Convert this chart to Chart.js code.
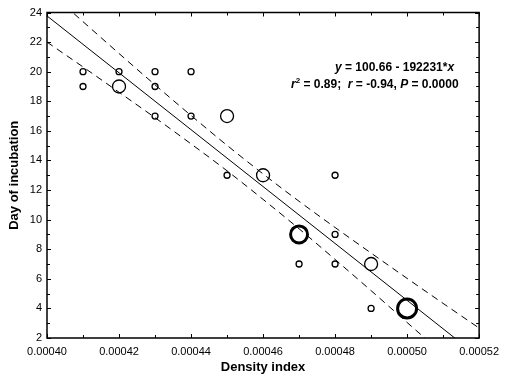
<!DOCTYPE html>
<html>
<head>
<meta charset="utf-8">
<script src="https://cdn.jsdelivr.net/npm/chart.js@4/dist/chart.umd.min.js"></script>
<style>
    body { margin: 0; background: #fff; }
    canvas { display: block; }
</style>
</head>
<body>
<canvas id="myChart" width="506" height="380"></canvas>
<script>
// observations (circle size = number of overlapping nests)
var densityX = [0.00041, 0.00041, 0.00042, 0.00042, 0.00043, 0.00043, 0.00043, 0.00044, 0.00044, 0.00045,
                0.00045, 0.00046, 0.00047, 0.00047, 0.00048, 0.00048, 0.00048, 0.00049, 0.00049, 0.00050],
    incubationDay = [20, 19, 20, 19, 20, 19, 17, 20, 17, 17, 13, 13, 9, 7, 13, 9, 7, 7, 4, 4],
    nestCount = [1, 1, 1, 2, 1, 1, 1, 1, 1, 2, 1, 2, 3, 1, 1, 1, 1, 2, 1, 4];

// fitted line y = 100.66 - 192231*x, end points
var fitX = [0.00040, 0.00052],
    fitY = [23.77, 0.70];

// 95% confidence band
var bandX = [0.00040, 0.00041, 0.00042, 0.00043, 0.00044, 0.00045, 0.00046,
             0.00047, 0.00048, 0.00049, 0.00050, 0.00051, 0.00052],
    bandUpper = [25.54, 23.38, 21.23, 19.11, 17.04, 15.02, 13.09, 11.24, 9.47, 7.74, 6.03, 4.34, 2.67],
    bandLower = [22.00, 20.32, 18.61, 16.89, 15.12, 13.30, 11.37, 9.38, 7.31, 5.20, 3.05, 0.90, -1.27];

var xTicks = [0.00040, 0.00042, 0.00044, 0.00046, 0.00048, 0.00050, 0.00052],
    yTicks = [2, 4, 6, 8, 10, 12, 14, 16, 18, 20, 22, 24];

const FONT = '"Liberation Sans", Arial, sans-serif';
const pts = (xs, ys) => xs.map((x, i) => ({ x: x, y: ys[i] }));
const lastOf = arr => arr[arr.length - 1];
const radiusFor = { 1: 3, 2: 6.5, 3: 8.5, 4: 9.5 },
      borderFor = { 1: 1.3, 2: 1.3, 3: 3, 4: 3 };

// frame + inward ticks on all four sides, and the equation text
const framePlugin = {
    id: 'frame',
    afterDraw(chart) {
        const ctx = chart.ctx, a = chart.chartArea;
        const xs = chart.scales.x, ys = chart.scales.y;
        ctx.save();
        try {
            ctx.setLineDash([]);
            ctx.globalAlpha = 1;
            ctx.globalCompositeOperation = 'source-over';
            ctx.strokeStyle = '#000';
            ctx.lineWidth = 1.5;
            ctx.beginPath();
            ctx.rect(a.left, a.top, a.right - a.left, a.bottom - a.top);
            ctx.stroke();

            ctx.lineWidth = 1;
            ctx.beginPath();
            for (let k = 0; k <= 12; k++) {
                let v = xTicks[0] + k * 0.00001;
                let px = Math.round(xs.getPixelForValue(v)) + 0.5;
                let len = (k % 2 == 0) ? 4 : 3;
                ctx.moveTo(px, a.bottom); ctx.lineTo(px, a.bottom - len);
                ctx.moveTo(px, a.top); ctx.lineTo(px, a.top + len);
            }
            for (let v = yTicks[0]; v <= lastOf(yTicks); v++) {
                let py = Math.round(ys.getPixelForValue(v)) + 0.5;
                let len = (v % 2 == 0) ? 4 : 3;
                ctx.moveTo(a.left, py); ctx.lineTo(a.left + len, py);
                ctx.moveTo(a.right, py); ctx.lineTo(a.right - len, py);
            }
            ctx.stroke();
        } catch (e) {
            ctx.fillStyle = 'red';
            ctx.fillText(String(e), 60, 300);
        }

        // equation
        const B = 'bold 12px ' + FONT, BI = 'italic bold 12px ' + FONT, SUP = 'bold 8px ' + FONT;
        function runs(x, y, parts) {
            parts.forEach(p => {
                ctx.font = p[1];
                let dy = p[2] || 0;
                ctx.fillText(p[0], x, y + dy);
                x += ctx.measureText(p[0]).width;
            });
        }
        ctx.fillStyle = '#000';
        ctx.textBaseline = 'alphabetic';
        ctx.textAlign = 'left';
        runs(335, 71, [['y', BI], [' = 100.66 - 192231*', B], ['x', BI]]);
        runs(291, 88, [['r', BI], ['2', SUP, -5], [' = 0.89;  ', B], ['r', BI], [' = -0.94, ', B],
                       ['P', BI], [' = 0.0000', B]]);
        ctx.restore();
    }
};

var ctx = document.getElementById('myChart').getContext('2d');
var myChart = new Chart(ctx, {
    type: 'scatter',
    data: {
        datasets: [{
            label: 'Fit',
            type: 'line',
            data: pts(fitX, fitY),
            borderColor: '#000',
            borderWidth: 1,
            pointRadius: 0,
            fill: false
        }, {
            label: 'Upper 95%',
            type: 'line',
            data: pts(bandX, bandUpper),
            borderColor: '#000',
            borderWidth: 1,
            borderDash: [7, 5],
            pointRadius: 0,
            cubicInterpolationMode: 'monotone',
            fill: false
        }, {
            label: 'Lower 95%',
            type: 'line',
            data: pts(bandX, bandLower),
            borderColor: '#000',
            borderWidth: 1,
            borderDash: [7, 5],
            pointRadius: 0,
            cubicInterpolationMode: 'monotone',
            fill: false
        }, {
            label: 'Nests',
            data: pts(densityX, incubationDay),
            backgroundColor: 'rgba(0,0,0,0)',
            borderColor: '#000',
            pointRadius: nestCount.map(n => radiusFor[n]),
            pointBorderWidth: nestCount.map(n => borderFor[n]),
            pointHoverRadius: nestCount.map(n => radiusFor[n])
        }]
    },
    options: {
        responsive: false,
        animation: false,
        devicePixelRatio: 1,
        layout: { padding: { top: 12, right: 20, left: 0, bottom: 0 } },
        plugins: {
            legend: { display: false },
            tooltip: { enabled: false }
        },
        scales: {
            x: {
                type: 'linear',
                min: xTicks[0],
                max: lastOf(xTicks),
                afterFit: s => { s.height = 42; },
                afterBuildTicks: s => { s.ticks = xTicks.map(v => ({ value: v })); },
                grid: { display: false, drawTicks: false },
                border: { display: false },
                ticks: {
                    color: '#000',
                    font: { family: FONT, size: 11 },
                    padding: 7,
                    maxRotation: 0,
                    callback: v => v.toFixed(5)
                },
                title: {
                    display: true,
                    text: 'Density index',
                    color: '#000',
                    font: { family: FONT, size: 13, weight: 'bold' },
                    padding: { top: 0, bottom: 5 }
                }
            },
            y: {
                type: 'linear',
                min: yTicks[0],
                max: lastOf(yTicks),
                afterFit: s => { s.width = 47; },
                afterBuildTicks: s => { s.ticks = yTicks.map(v => ({ value: v })); },
                grid: { display: false, drawTicks: false },
                border: { display: false },
                ticks: {
                    color: '#000',
                    font: { family: FONT, size: 11 },
                    padding: 5
                },
                title: {
                    display: true,
                    text: 'Day of incubation',
                    color: '#000',
                    font: { family: FONT, size: 13, weight: 'bold' },
                    padding: { top: 7, bottom: 0 }
                }
            }
        }
    },
    plugins: [framePlugin]
});
</script>
</body>
</html>
